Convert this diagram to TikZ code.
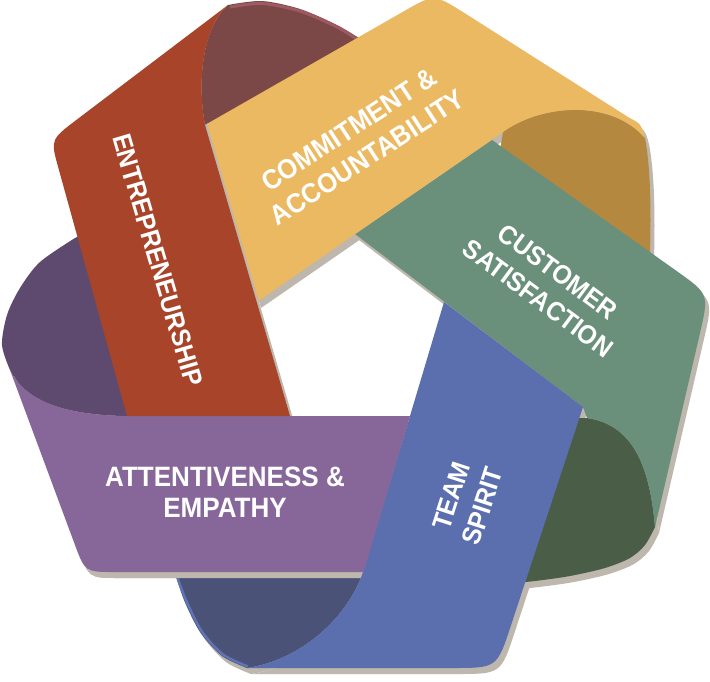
\documentclass[tikz,border=0pt]{standalone}
\usepackage{fontspec}
\setmainfont{Liberation Sans}[FakeStretch=0.93]
\definecolor{rustF}{HTML}{A84429}
\definecolor{rustB}{HTML}{7C4747}
\definecolor{rustS}{HTML}{9D5A62}
\definecolor{yelF}{HTML}{EAB961}
\definecolor{yelB}{HTML}{B5883F}
\definecolor{grnF}{HTML}{6A8F7A}
\definecolor{grnB}{HTML}{4A5D46}
\definecolor{bluF}{HTML}{5B6FAF}
\definecolor{bluB}{HTML}{4A5277}
\definecolor{bluS}{HTML}{5F74B4}
\definecolor{purF}{HTML}{87679A}
\definecolor{purB}{HTML}{5E4A6E}
\definecolor{shadowc}{HTML}{BDB7AD}
% band outlines (pixel coordinates, y downwards)
\def\PurBack{(122,416) .. controls (60,414) and (25,400) .. (10,370) -- plot[smooth] coordinates {(10,370) (2,345) (7,315) (20,288) (40,262) (75,238)} -- (92,230) -- (160,230) -- (160,416) -- cycle}
\def\PurFront{(410,416) -- (122,416) .. controls (60,414) and (25,400) .. (10,370) -- (74.6,543.9) .. controls (85,572) .. (115,572) -- (363.5,572) -- cycle}
\def\RustBack{(228,5) -- plot[smooth] coordinates {(228,5) (262,1) (300,9) (337,25) (362,40)} -- (362,80) -- (210,140) -- (205,125) .. controls (196,75) and (205,25) .. (228,5) -- cycle}
\def\RustFront{(228,5) .. controls (205,25) and (196,75) .. (205,125) -- (290,416) -- (127,416) -- (58,166.5) .. controls (50.5,139.5) .. (78.4,118.4) -- cycle}
\def\YelBack{(503,132) .. controls (540,105) and (610,98) .. (645,138) .. controls (651,170) and (651,215) .. (650,254) -- (500,150) -- cycle}
\def\YelFront{(205,125) -- (257,302) -- (503,132) .. controls (540,105) and (610,98) .. (645,138) .. controls (641,124) .. (628,117) -- (463.8,12.6) .. controls (434,-6) .. (404,11.2) -- cycle}
\def\GrnBack{(587,418) .. controls (635,425) and (650,470) .. (655,527) -- plot[smooth] coordinates {(655,527) (645,545) (630,558) (605,568) (570,576) (535,581) (505,584)} -- (520,420) -- cycle}
\def\GrnFront{(355,234) -- (492,140) -- (676.5,270.9) .. controls (709,294) .. (700,333) -- (655,527) .. controls (650,470) and (635,425) .. (587,418) -- (583,407) -- cycle}
\def\BluBack{(247,668) -- plot[smooth] coordinates {(247,668) (222,656) (200,632) (184,600) (174,570)} -- (172,545) -- (330,545) -- (362,575) .. controls (345,620) and (300,660) .. (247,668) -- cycle}
\def\BluFront{(444,302) -- (583,407) -- (511,625.3) .. controls (497,668) .. (452,668) -- (247,668) .. controls (300,660) and (345,620) .. (362,575) -- (410,416) -- cycle}
\begin{document}
\begin{tikzpicture}[x=1pt,y=-1pt,
  shadowfill/.style={fill=shadowc},
  txt/.style={text=white, align=center, inner sep=0pt},
  bigfont/.style={font=\fontsize{28}{31}\selectfont\bfseries},
  midfont/.style={font=\fontsize{26.5}{33}\selectfont\bfseries},
  yelfont/.style={font=\fontsize{27.5}{33.5}\selectfont\bfseries}]
\useasboundingbox (0,0) rectangle (710,681);
\fill[white] (0,0) rectangle (710,681);
% global drop shadow
\begin{scope}[shift={(4,6)}]
  \fill[shadowfill] \PurBack;  \fill[shadowfill] \PurFront;
  \fill[shadowfill] \RustBack; \fill[shadowfill] \RustFront;
  \fill[shadowfill] \YelBack;  \fill[shadowfill] \YelFront;
  \fill[shadowfill] \GrnBack;  \fill[shadowfill] \GrnFront;
  \fill[shadowfill] \BluBack;  \fill[shadowfill] \BluFront;
\end{scope}
% back sides of the folds
\fill[purB] \PurBack;
\fill[rustB] \RustBack;
\draw[rustS, line width=3pt] plot[smooth] coordinates {(230,7) (262,3.5) (300,11) (337,27) (358,40)};
\fill[yelB] \YelBack;
\fill[grnB] \GrnBack;
\fill[bluB] \BluBack;
\draw[bluS, line width=2.5pt] plot[smooth] coordinates {(248,666.5) (223,654.5) (201.5,631) (185.5,599) (175.5,572)};
% shadow of the purple band on the blue fold
\fill[shadowfill, shift={(4,6)}] \PurFront;
% front sides
\fill[grnF] \GrnFront;
\fill[bluF] \BluFront;
\fill[purF] \PurFront;
\fill[yelF] \YelFront;
\begin{scope}
  \clip \YelFront;
  \fill[shadowfill, shift={(4,6)}] \RustFront;
\end{scope}
\fill[rustF] \RustFront;
% labels
\node[txt, bigfont] (tpur) at (225,492.5) {ATTENTIVENESS \&\\EMPATHY};
\node[txt, midfont, rotate=-73.5] (trust) at (158,260) {ENTREPRENEURSHIP};
\node[txt, yelfont, rotate=33] (tyel) at (358,143.5) {COMMITMENT \&\\ACCOUNTABILITY};
\node[txt, midfont, rotate=-36.5] (tgrn) at (548,285) {CUSTOMER\\SATISFACTION};
\node[txt, midfont, rotate=72] (tblu) at (467,501) {TEAM\\SPIRIT};
\end{tikzpicture}
\end{document}
